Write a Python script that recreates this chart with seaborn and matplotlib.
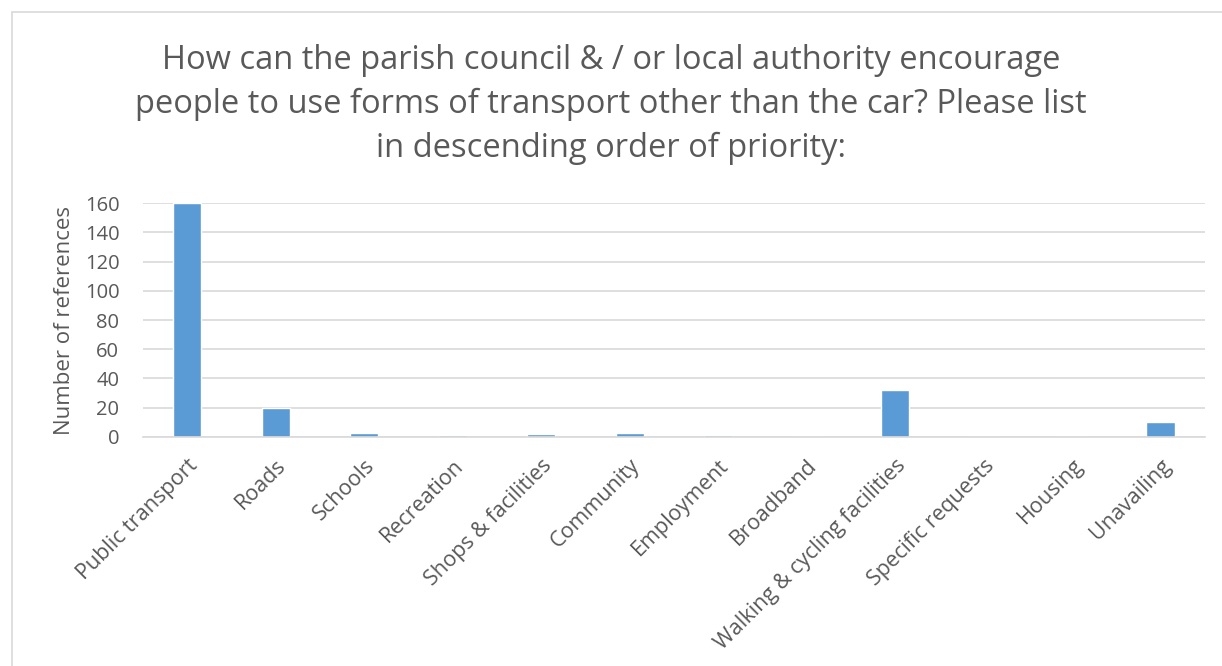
import pandas as pd
import matplotlib.pyplot as plt
import seaborn as sns
from matplotlib.patches import Rectangle

# Categories and counts
categories = ["Public transport", "Roads", "Schools", "Recreation", "Shops & facilities",
              "Community", "Employment", "Broadband", "Walking & cycling facilities",
              "Specific requests", "Housing", "Unavailing"]
references = [160, 20, 3, 1, 2, 3, 1, 0, 32, 0, 0, 10]

df = pd.DataFrame({"Category": categories, "References": references})

sns.set_theme(style="white")
plt.rcParams['font.family'] = ['Open Sans', 'DejaVu Sans']

text_color = "#595959"

fig = plt.figure(figsize=(12.22, 6.66), dpi=100)
ax = fig.add_axes([0.117, 0.344, 0.869, 0.351])

sns.barplot(data=df, x="Category", y="References", color="#5b9bd5",
            saturation=1, width=0.32, ax=ax)

ax.set_ylim(0, 160)
ax.set_yticks(range(0, 161, 20))
ax.yaxis.grid(True, color="#d9d9d9", linewidth=1.2)
ax.set_axisbelow(True)
for side in ["top", "right", "left"]:
    ax.spines[side].set_visible(False)
ax.spines["bottom"].set_color("#d9d9d9")
ax.spines["bottom"].set_linewidth(1.2)
ax.tick_params(axis="x", length=0, colors=text_color, labelsize=15.5, pad=13)
ax.tick_params(axis="y", length=0, colors=text_color, labelsize=14.5, pad=17)
plt.setp(ax.get_xticklabels(), rotation=45, ha="right", rotation_mode="anchor")

ax.set_xlabel("")
ax.set_ylabel("Number of references", fontsize=16, color=text_color, labelpad=7)

fig.text(0.5, 0.843,
         "How can the parish council & / or local authority encourage\n"
         "people to use forms of transport other than the car? Please list\n"
         "in descending order of priority:",
         ha="center", va="center", fontsize=23.5, color=text_color, linespacing=1.43)

# chart area border
fig.patches.append(Rectangle((12 / 1222, -0.01), 1.1, 1 - 12 / 666 + 0.01,
                             transform=fig.transFigure, fill=False,
                             edgecolor="#d9d9d9", linewidth=1.2))

fig.savefig("out.png", dpi=100)
